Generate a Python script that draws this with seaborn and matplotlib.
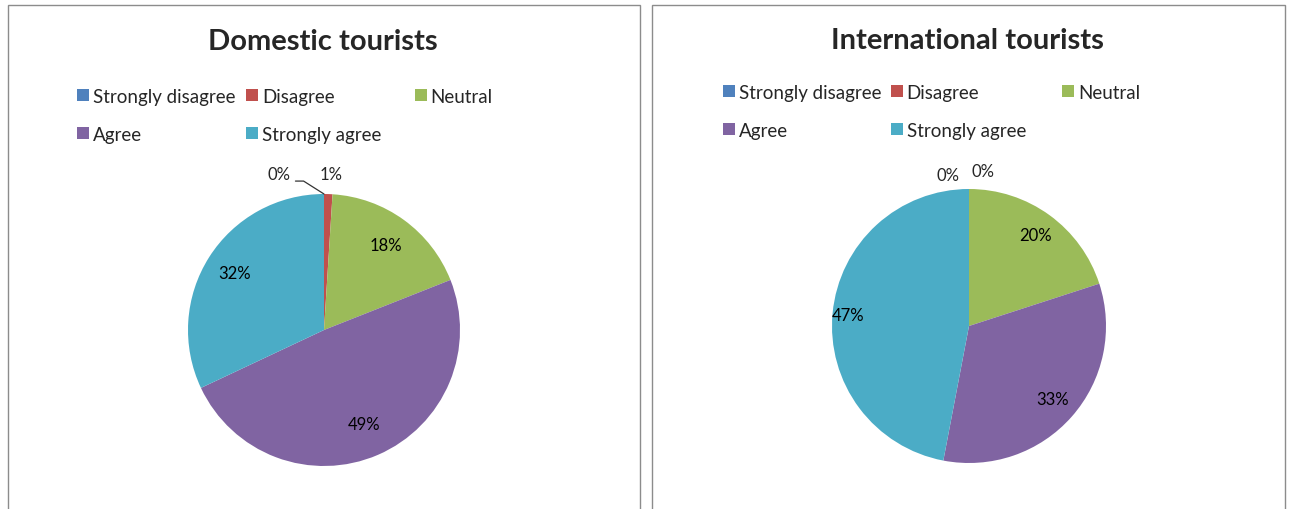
import numpy as np
import matplotlib.pyplot as plt
import seaborn as sns
from matplotlib.patches import Rectangle, Patch

categories = ["Strongly disagree", "Disagree", "Neutral", "Agree", "Strongly agree"]
domestic = [0, 1, 18, 49, 32]
international = [0, 0, 20, 33, 47]
titles = ["Domestic tourists", "International tourists"]

palette = sns.color_palette(["#4F81BD", "#C0504D", "#9BBB59", "#8064A2", "#4BACC6"])

sns.set_theme(style="white")
plt.rcParams["font.family"] = ["Lato", "DejaVu Sans"]

W, H = 1290, 510
fig = plt.figure(figsize=(W / 100, H / 100), dpi=100)
fig.patch.set_facecolor("white")

# layout of each panel in pixels
panels = [
    dict(values=domestic, title=titles[0], box=(8, 640), center=(324, 331), r=136,
         title_xy=(323, 42), leg_x=(77, 246, 415), leg_y=89,
         label_r={2: 0.77, 3: 0.75, 4: 0.78},
         outside={0: (-0.33, 1.15, True), 1: (0.05, 1.15, False)}),
    dict(values=international, title=titles[1], box=(652, 1285), center=(969, 327), r=137,
         title_xy=(967, 41), leg_x=(723, 891, 1062), leg_y=85,
         label_r={2: 0.82, 3: 0.81, 4: 0.89},
         outside={0: (-0.15, 1.10, False), 1: (0.10, 1.13, False)}),
]

for p in panels:
    x0, x1 = p["box"]
    fig.patches.append(Rectangle((x0 / W, 1 - 520 / H), (x1 - x0) / W, (520 - 6) / H,
                                 transform=fig.transFigure, fill=False,
                                 edgecolor="#8c8c8c", linewidth=1))
    cx, cy = p["center"]
    r = p["r"]
    ax = fig.add_axes([(cx - r) / W, (H - cy - r) / H, 2 * r / W, 2 * r / H])
    wedges, _ = ax.pie(p["values"], colors=palette, startangle=90, counterclock=False,
                       wedgeprops=dict(linewidth=0))
    ax.set_xlim(-1, 1)
    ax.set_ylim(-1, 1)
    ax.axis("off")

    for i, (w, v) in enumerate(zip(wedges, p["values"])):
        txt = f"{v}%"
        if i in p["label_r"]:
            ang = np.deg2rad((w.theta1 + w.theta2) / 2)
            d = p["label_r"][i]
            ax.text(d * np.cos(ang), d * np.sin(ang), txt, ha="center", va="center",
                    fontsize=12, color="black")
        else:
            lx, ly, leader = p["outside"][i]
            ax.text(lx, ly, txt, ha="center", va="center", fontsize=12)
            if leader:
                # Excel style leader: short stroke at baseline, then down to the slice
                ang = np.deg2rad(w.theta1)
                ax.plot([lx + 0.12, lx + 0.18, np.cos(ang)], [ly - 0.055, ly - 0.055, np.sin(ang)],
                        color="#333333", lw=0.9, clip_on=False)

    fig.text(p["title_xy"][0] / W, 1 - p["title_xy"][1] / H, p["title"],
             ha="center", va="center", fontsize=21, fontweight="bold")

    # legend: column-major, 3 columns like Excel
    groups = [[0, 3], [1, 4], [2]]
    for gx, grp in zip(p["leg_x"], groups):
        handles = [Patch(facecolor=palette[k], edgecolor="none") for k in grp]
        fig.legend(handles, [categories[k] for k in grp], loc="upper left",
                   bbox_to_anchor=(gx / W, 1 - p["leg_y"] / H), frameon=False,
                   fontsize=13.5, handlelength=0.62, handleheight=0.62,
                   handletextpad=0.22, borderpad=0, borderaxespad=0,
                   labelspacing=1.1)

fig.savefig("out.png", dpi=100, facecolor="white")
